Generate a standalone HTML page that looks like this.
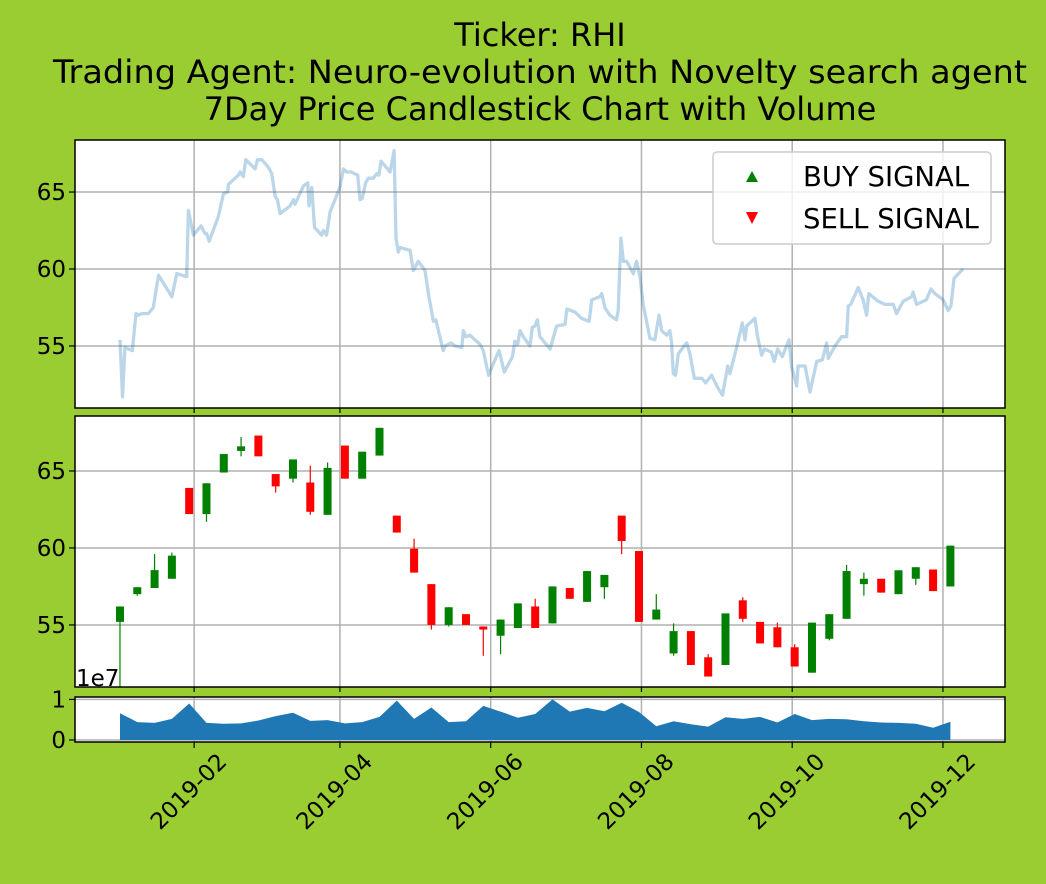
<!DOCTYPE html>
<html><head><meta charset="utf-8"><style>
html,body{margin:0;padding:0;background:#9acd32;}
svg{display:block;font-family:"DejaVu Sans","Liberation Sans",sans-serif;}
</style></head><body>
<svg id="c" width="1046" height="884" viewBox="0 0 1046 884">
<text x="540" y="46" font-size="32" text-anchor="middle">Ticker: RHI</text>
<text x="540" y="83" font-size="32" text-anchor="middle" textLength="974" lengthAdjust="spacingAndGlyphs">Trading Agent: Neuro-evolution with Novelty search agent</text>
<text x="540" y="120" font-size="32" text-anchor="middle">7Day Price Candlestick Chart with Volume</text>
</svg>
<script>
// price line (day of 2019 offset from Jan 1, close price)
const lineDays=[1,2,3,4.4,6,7.5,8.5,9.8,12.5,14.5,16.6,22,24,26,28,28.7,30.7,33.8,35.4,36.1,37.1,40.8,42.9,44.6,44.9,48.9,49.6,50.9,51.9,55.7,56.6,58.4,61.1,62.4,63.8,64.7,65.8,69.8,71.2,71.8,75.2,77,77.5,78.6,79.7,82.6,83.3,84.6,86,90,91.4,92.7,94.5,97.2,98.1,99.1,100.4,101.5,103.5,104.9,105.8,106.6,110.3,111.9,112.7,113.6,114.3,118.4,119.7,121.7,124.4,126,127.8,128.8,131.8,132.5,135,136.6,139.3,139.9,140.9,142.6,146.7,148,150.1,153,154.4,156.5,159.8,160.8,161.9,162.9,164.2,166.9,167.8,168.9,169.9,170.9,175,177.7,181.1,181.8,185.1,187.8,189.2,190.8,191.9,195.2,195.9,197.2,199.2,201.9,202.6,203.7,204.7,206,208.7,210,211.4,212.7,215.4,217.4,219.1,220.2,222.2,223.5,224.2,224.9,225.8,226.9,230.3,231.6,233.4,236.4,238,240.4,242.8,244.8,246.9,247.8,250.5,252.8,253.9,254.6,257.9,259,260.6,261.7,264.6,265.7,267.1,269,271.7,272.8,274.8,275.4,278.2,280.2,282.9,285.2,286.9,287.6,290.3,293,295,295.7,296.7,299.7,301.7,303.1,304,307.8,310.5,313.9,315.2,317.9,321.3,321.9,323.3,327.3,329.1,330.7,334.1,336.1,337.2,338.5,342.2];
const linePrices=[55.4,51.7,54.9,54.8,54.7,57.1,57.0,57.1,57.1,57.5,59.6,58.2,59.7,59.6,59.5,63.8,62.2,62.8,62.3,62.3,61.8,63.4,64.9,65.0,65.5,66.1,66.3,66.0,67.1,66.5,67.1,67.1,66.6,66.2,64.7,64.5,63.6,64.1,64.5,64.2,65.4,65.6,64.1,65.3,62.7,62.2,62.5,62.2,63.7,65.3,66.5,66.3,66.3,66.1,64.5,64.6,65.6,65.9,65.9,66.2,66.1,67.0,66.3,67.7,62.0,61.1,61.4,61.2,59.9,60.5,59.9,58.2,56.6,56.7,54.7,55.0,55.2,55.0,54.9,56.0,55.6,55.7,55.1,54.7,53.1,54.2,54.7,53.3,54.3,55.3,55.1,56.0,55.6,55.0,56.2,56.3,56.7,55.6,54.8,56.3,56.4,57.4,57.2,56.8,56.7,56.6,58.0,58.2,58.4,57.5,57.0,56.7,57.3,62.0,60.5,60.5,59.7,60.5,59.5,57.7,55.5,55.4,57.0,56.0,55.7,56.0,55.2,53.2,53.1,54.5,55.2,54.5,52.9,52.9,52.6,53.1,52.3,51.8,53.7,53.2,54.9,56.5,55.4,56.3,56.8,55.6,54.4,54.8,54.6,54.0,54.8,54.3,55.4,53.6,52.4,53.7,53.7,52.0,54.0,54.1,55.2,54.2,55.0,55.6,55.6,57.6,57.7,58.8,58.0,57.0,58.4,57.9,57.7,57.7,57.1,57.9,58.2,58.5,57.7,58.0,58.7,58.4,58.0,57.3,57.6,59.4,60.0];
// weekly candles: first candle Jan 2, 7-day spacing
const candleOpen=[55.2,57.0,57.4,58.0,63.9,62.2,64.9,66.3,67.3,64.8,64.5,64.25,62.15,66.65,64.5,66.0,62.1,59.95,57.65,55.0,55.7,54.9,54.3,54.8,56.2,55.1,57.4,56.5,57.45,62.1,59.8,55.35,53.15,54.6,52.9,52.4,56.6,55.2,54.85,53.55,51.9,54.1,55.4,57.65,58.0,57.0,58.0,58.6,57.5];
const candleClose=[56.2,57.45,58.56,59.5,62.2,64.2,66.1,66.6,65.95,64.0,65.75,62.35,65.2,64.5,66.25,67.8,61.0,58.4,55.0,56.15,55.0,54.7,55.35,56.4,54.8,57.5,56.7,58.5,58.25,60.45,55.2,56.0,54.6,52.4,51.65,55.75,55.4,53.8,53.55,52.3,55.15,55.7,58.5,58.0,57.1,58.55,58.75,57.2,60.15];
const candleHigh=[56.2,57.45,59.6,59.7,63.9,64.2,66.1,67.2,67.3,64.8,65.75,65.35,65.55,66.65,66.25,67.8,62.1,60.6,57.65,56.15,55.7,54.9,55.35,56.4,56.7,57.5,57.4,58.5,58.25,62.1,59.8,57.0,55.1,54.6,53.1,55.75,56.8,55.2,55.15,53.75,55.15,55.7,58.9,58.4,58.0,58.55,58.75,58.6,60.15];
const candleLow=[51.0,56.9,57.4,58.0,62.2,61.7,64.9,65.95,65.95,63.6,64.25,62.15,62.15,64.5,64.5,66.0,61.0,58.4,54.7,54.9,55.0,53.0,53.1,54.8,54.8,55.1,56.7,56.5,56.7,59.6,55.2,55.35,53.0,52.4,51.65,52.4,55.2,53.8,53.55,52.3,51.9,54.0,55.4,56.9,57.1,57.0,57.6,57.2,57.5];
const volumes=[0.66,0.44,0.42,0.52,0.90,0.42,0.40,0.41,0.48,0.59,0.67,0.47,0.49,0.41,0.44,0.57,0.97,0.52,0.80,0.44,0.46,0.84,0.70,0.55,0.64,1.0,0.70,0.79,0.71,0.92,0.69,0.34,0.46,0.39,0.33,0.56,0.52,0.57,0.43,0.64,0.49,0.52,0.51,0.46,0.43,0.42,0.40,0.30,0.45];
const xTickDays=[31,90,151,212,273,334];
const xTickLabels=["2019-02","2019-04","2019-06","2019-08","2019-10","2019-12"];
const priceTicks=[55,60,65];
const volTicks=[0,1];

const NS="http://www.w3.org/2000/svg";
const svg=document.getElementById('c');
function mk(tag,attrs,parent){const e=document.createElementNS(NS,tag);for(const k in attrs)e.setAttribute(k,attrs[k]);(parent||svg).appendChild(e);return e;}
const L=75,R=1005,D0=-17.2,D1=359.1;
const X=d=>L+(d-D0)/(D1-D0)*(R-L);
const P1={t:140,b:408,lo:50.97,hi:68.38};
const P2={t:416,b:687,lo:50.97,hi:68.57};
const P3={t:697,b:742,lo:-0.05,hi:1.06};
const Y=(p,v)=>p.b-(v-p.lo)/(p.hi-p.lo)*(p.b-p.t);
const TF=23;

function panel(p,name,ticks){
  const bg=mk('rect',{x:L,y:p.t,width:R-L,height:p.b-p.t,fill:'#fff'});
  
  
  xTickDays.forEach(d=>{const g=mk('line',{x1:X(d),x2:X(d),y1:p.t,y2:p.b,stroke:'#b0b0b0','stroke-width':1.5});
    
    });
  ticks.forEach(v=>{const y=Y(p,v);
    const g=mk('line',{x1:L,x2:R,y1:y,y2:y,stroke:'#b0b0b0','stroke-width':1.5});
    
    
    const tk=mk('line',{x1:L-6,x2:L,y1:y,y2:y,stroke:'#000','stroke-width':1.2});
    
    
    const t=mk('text',{x:L-9,y:y+8,'font-size':TF,'text-anchor':'end'});t.textContent=v;
    
    });
}
function frame(p,name){const f=mk('rect',{x:L,y:p.t,width:R-L,height:p.b-p.t,fill:'none',stroke:'#000','stroke-width':1.5});
  
  }

// panel 1
panel(P1,'price-line-panel',priceTicks);
const pts=lineDays.map((d,i)=>X(d).toFixed(1)+','+Y(P1,linePrices[i]).toFixed(1)).join(' ');
const pl=mk('polyline',{points:pts,fill:'none',stroke:'#1f77b4','stroke-opacity':0.3,'stroke-width':3.3,'stroke-linejoin':'round'});


frame(P1,'price-line-panel');
xTickDays.forEach(d=>{const tk=mk('line',{x1:X(d),x2:X(d),y1:P1.b,y2:P1.b+5,stroke:'#000','stroke-width':1.2});
  
  });
// legend
const lg=mk('g',{});


mk('rect',{x:713,y:152,width:278,height:92,rx:4,fill:'#fff','fill-opacity':0.8,stroke:'#ccc','stroke-width':1.5},lg);
const b=mk('polygon',{points:'752,171 758,182 746,182',fill:'green'},lg);


const bt=mk('text',{x:803,y:186,'font-size':27.5},lg);bt.textContent='BUY SIGNAL';


const s=mk('polygon',{points:'746,212 758,212 752,224',fill:'red'},lg);


const st=mk('text',{x:803,y:228,'font-size':27.5},lg);st.textContent='SELL SIGNAL';



// panel 2 candles
panel(P2,'candlestick-panel',priceTicks);
candleOpen.forEach((o,i)=>{
  const c=candleClose[i],d=1+7*i,x=X(d),col=c>=o?'green':'red';
  const w=mk('line',{x1:x,x2:x,y1:Y(P2,candleHigh[i]),y2:Y(P2,candleLow[i]),stroke:col,'stroke-width':1.2});
  
  
  const yt=Y(P2,Math.max(o,c)),yb=Y(P2,Math.min(o,c));
  const r=mk('rect',{x:x-4,y:yt,width:8,height:Math.max(1,yb-yt),fill:col});
  
  
});
frame(P2,'candlestick-panel');
xTickDays.forEach(d=>{const tk=mk('line',{x1:X(d),x2:X(d),y1:P2.b,y2:P2.b+5,stroke:'#000','stroke-width':1.2});
  
  });
const oe=mk('text',{x:76,y:686,'font-size':TF});oe.textContent='1e7';



// panel 3 volume
panel(P3,'volume-panel',volTicks);
let vp='M'+X(1)+','+Y(P3,0);
volumes.forEach((v,i)=>{vp+=' L'+X(1+7*i).toFixed(1)+','+Y(P3,v).toFixed(1);});
vp+=' L'+X(1+7*(volumes.length-1)).toFixed(1)+','+Y(P3,0)+' Z';
const va=mk('path',{d:vp,fill:'#1f77b4'});


frame(P3,'volume-panel');
xTickDays.forEach((d,i)=>{const x=X(d);
  const tk=mk('line',{x1:x,x2:x,y1:P3.b,y2:P3.b+6,stroke:'#000','stroke-width':1.2});
  
  
  const cx=x-5,cy=792;
  const t=mk('text',{x:cx,y:cy,'font-size':TF,'text-anchor':'middle','dominant-baseline':'central',transform:'rotate(-45 '+cx+' '+cy+')'});
  t.textContent=xTickLabels[i];
  
  });
</script>
</body></html>
